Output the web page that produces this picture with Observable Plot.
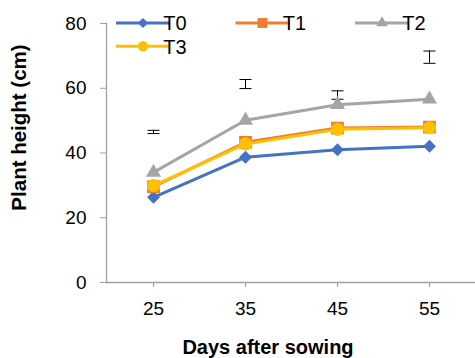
<!DOCTYPE html>
<html><head><meta charset="utf-8">
<script src="https://cdn.jsdelivr.net/npm/d3@7"></script>
<script src="https://cdn.jsdelivr.net/npm/@observablehq/plot@0.6"></script>
<style>body{margin:0;background:#fff} #chart{position:relative;width:475px;height:358px}</style>
</head><body><div id="chart"></div>
<script>
const days = [25, 35, 45, 55];
const seriesNames = ["T0", "T1", "T2", "T3"];
const T0 = [26.3, 38.7, 41.0, 42.1];
const T1 = [29.6, 43.3, 47.7, 48.0];
const T2 = [34.0, 50.1, 54.9, 56.6];
const T3 = [29.9, 42.8, 47.3, 47.8];
const errCenter = [46.5, 61.3, 57.9, 69.6];
const errHalf = [0.5, 1.4, 1.3, 1.9];
const yTicks = [0, 20, 40, 60, 80];
const xLabel = "Days after sowing";
const yLabel = "Plant height (cm)";

const seriesValues = [T0, T1, T2, T3];
const colors = ["#4472C4", "#ED7D31", "#A5A5A5", "#FFC000"];
const symbolNames = ["diamond2", "square", "triangle", "circle"];
const d3Symbols = [d3.symbolDiamond2, d3.symbolSquare, d3.symbolTriangle, d3.symbolCircle];
const radii = [5.8, 7.2, 5.6, 6.6];
const legendRadii = [4.6, 5.6, 4.3, 5.2];
const FONT = "Arial, 'Liberation Sans', sans-serif";
const AXIS = "#a0a0a0";

const rows = [];
seriesNames.forEach((s, si) => days.forEach((d, i) => rows.push({series: s, day: d, value: seriesValues[si][i]})));
const errRows = days.map((d, i) => ({day: d, lo: errCenter[i] - errHalf[i], hi: errCenter[i] + errHalf[i]}));

const capSymbol = {draw(ctx, size) { const w = Math.sqrt(size); ctx.moveTo(-w / 2, 0); ctx.lineTo(w / 2, 0); }};

const seriesMarks = [];
seriesNames.forEach((s, si) => {
  const data = rows.filter(r => r.series === s);
  seriesMarks.push(Plot.line(data, {x: "day", y: "value", stroke: colors[si], strokeWidth: 3}));
  seriesMarks.push(Plot.dot(data, {x: "day", y: "value", symbol: () => symbolNames[si], r: radii[si], fill: colors[si], stroke: "none"}));
});

const chart = Plot.plot({
  width: 475,
  height: 358,
  marginLeft: 106,
  marginRight: 0,
  marginTop: 23,
  marginBottom: 76,
  style: {fontFamily: FONT, fontSize: "19px", color: "#000", background: "#fff"},
  x: {type: "point", domain: days, padding: 0.5, align: 0.5},
  y: {domain: [0, 80]},
  symbol: {type: "identity"},
  marks: [
    Plot.frame({anchor: "left", stroke: AXIS, strokeWidth: 1.3}),
    Plot.ruleY([0], {stroke: AXIS, strokeWidth: 1.3}),
    Plot.axisY({ticks: yTicks, tickSize: 6, tickPadding: 14, stroke: AXIS, fill: "#000", fontSize: 19, label: null}),
    Plot.axisX({tickSize: 5, tickPadding: 14, stroke: AXIS, fill: "#000", fontSize: 19, label: null}),
    Plot.ruleX(errRows, {x: "day", y1: "lo", y2: "hi", stroke: "#000", strokeWidth: 1}),
    Plot.dot(errRows, {x: "day", y: "lo", symbol: () => capSymbol, r: 6.8, stroke: "#000", strokeWidth: 1, fill: "none"}),
    Plot.dot(errRows, {x: "day", y: "hi", symbol: () => capSymbol, r: 6.8, stroke: "#000", strokeWidth: 1, fill: "none"}),
    ...seriesMarks,
    Plot.text([xLabel], {frameAnchor: "bottom", textAnchor: "middle", lineAnchor: "middle", dx: -23, dy: 65, fontSize: 20, fontWeight: "bold", fill: "#000"}),
    Plot.text([yLabel], {frameAnchor: "left", textAnchor: "middle", lineAnchor: "middle", rotate: -90, dx: -87.5, dy: -25.5, fontSize: 20.5, fontWeight: "bold", fill: "#000"})
  ]
});

// Legend inside the plot area
const svg = d3.select(chart);
const lg = svg.append("g").attr("font-family", FONT).attr("font-size", 20);
seriesNames.forEach((s, i) => {
  const col = i % 3, row = Math.floor(i / 3);
  const x0 = 116 + col * 119.5, y0 = 23 + row * 23.3;
  lg.append("line").attr("x1", x0).attr("x2", x0 + 54).attr("y1", y0).attr("y2", y0)
    .attr("stroke", colors[i]).attr("stroke-width", 3);
  lg.append("path").attr("transform", `translate(${x0 + 27},${y0})`)
    .attr("d", d3.symbol(d3Symbols[i], Math.PI * legendRadii[i] ** 2)()).attr("fill", colors[i]);
  lg.append("text").attr("x", x0 + 59).attr("y", y0).attr("dy", "0.36em").attr("fill", "#000").text(s);
});

document.getElementById("chart").appendChild(chart);
</script>
</body></html>
